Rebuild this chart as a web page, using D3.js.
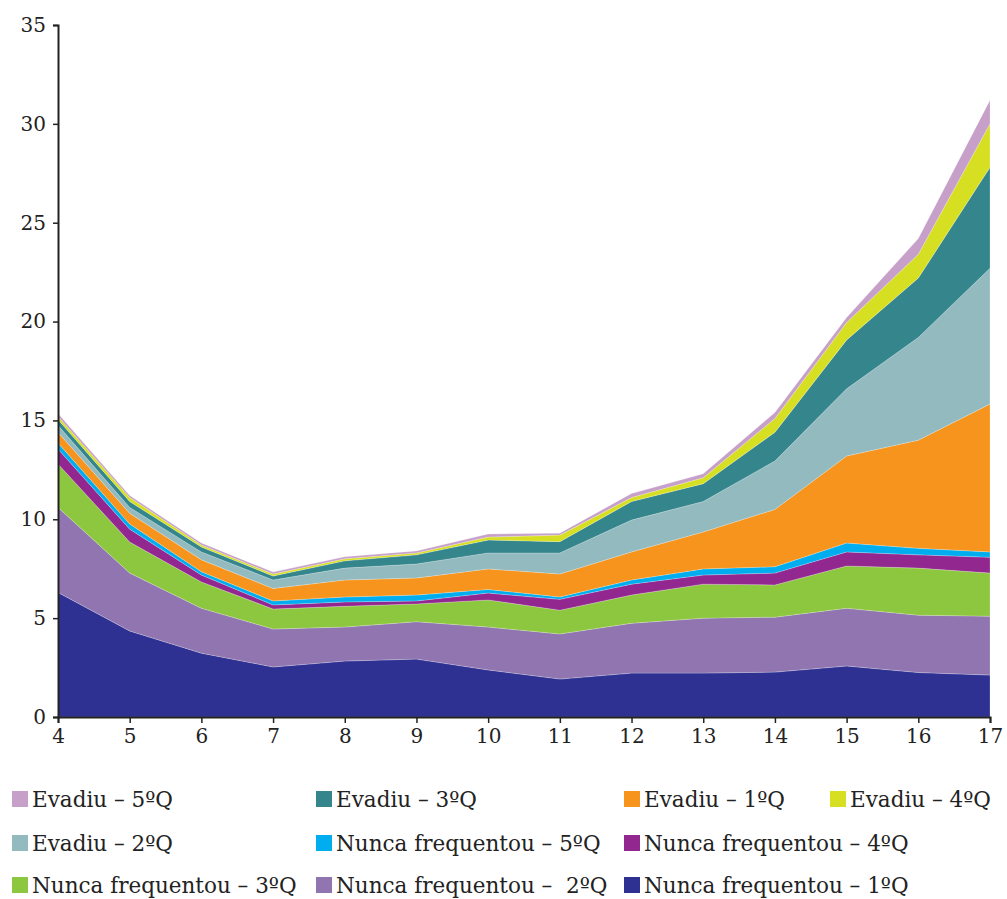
<!DOCTYPE html>
<html><head><meta charset="utf-8">
<script src="https://cdn.jsdelivr.net/npm/d3@7"></script>
<style>body{margin:0;background:#fff}</style>
</head><body><svg id="c" width="1007" height="899"></svg>
<script>
const ages = [4,5,6,7,8,9,10,11,12,13,14,15,16,17];
const nunca1 = [6.3,4.35,3.23,2.53,2.83,2.93,2.38,1.92,2.22,2.22,2.27,2.58,2.25,2.12];
const nunca2 = [4.3,2.93,2.27,1.92,1.72,1.89,2.17,2.28,2.52,2.78,2.78,2.92,2.9,2.98];
const nunca3 = [2.2,1.57,1.33,1.01,1.05,0.9,1.37,1.2,1.43,1.72,1.63,2.14,2.38,2.18];
const nunca4 = [0.75,0.65,0.35,0.21,0.22,0.15,0.35,0.55,0.55,0.46,0.6,0.71,0.67,0.8];
const nunca5 = [0.31,0.26,0.17,0.2,0.25,0.3,0.18,0.12,0.21,0.31,0.32,0.45,0.33,0.27];
const evadiu1 = [0.54,0.54,0.6,0.63,0.86,0.86,1.04,1.16,1.42,1.87,2.9,4.4,5.47,7.48];
const evadiu2 = [0.35,0.3,0.4,0.43,0.6,0.71,0.81,1.07,1.61,1.54,2.45,3.4,5.2,6.87];
const evadiu3 = [0.3,0.3,0.25,0.2,0.37,0.46,0.65,0.57,0.94,0.9,1.45,2.47,3.0,5.1];
const evadiu4 = [0.15,0.2,0.1,0.1,0.1,0.1,0.15,0.33,0.2,0.3,0.7,0.88,1.2,2.2];
const evadiu5 = [0.15,0.1,0.1,0.1,0.1,0.1,0.15,0.1,0.2,0.2,0.3,0.25,0.8,1.2];
const yTicks = [0,5,10,15,20,25,30,35];

const series = [
  {key:"n1", name:"Nunca frequentou – 1ºQ", values:nunca1, color:"#2e3192"},
  {key:"n2", name:"Nunca frequentou –  2ºQ", values:nunca2, color:"#9075b0"},
  {key:"n3", name:"Nunca frequentou – 3ºQ", values:nunca3, color:"#8dc63f"},
  {key:"n4", name:"Nunca frequentou – 4ºQ", values:nunca4, color:"#92278f"},
  {key:"n5", name:"Nunca frequentou – 5ºQ", values:nunca5, color:"#00aeef"},
  {key:"e1", name:"Evadiu – 1ºQ", values:evadiu1, color:"#f7941d"},
  {key:"e2", name:"Evadiu – 2ºQ", values:evadiu2, color:"#93babf"},
  {key:"e3", name:"Evadiu – 3ºQ", values:evadiu3, color:"#35858c"},
  {key:"e4", name:"Evadiu – 4ºQ", values:evadiu4, color:"#d7df23"},
  {key:"e5", name:"Evadiu – 5ºQ", values:evadiu5, color:"#c6a0c9"}
];
// legend rows as in reference
const legendRows = [["e5","e3","e1","e4"],["e2","n5","n4"],["n3","n2","n1"]];

const table = ages.map((a,i)=>{const r={age:a}; series.forEach(s=>r[s.key]=s.values[i]); return r;});

const svg = d3.select("#c");
const x = d3.scaleLinear().domain([4,17]).range([58,990]);
const y = d3.scaleLinear().domain([0,35]).range([717,25]);

const stack = d3.stack().keys(series.map(s=>s.key));
const layers = stack(table);
const area = d3.area().x(d=>x(d.data.age)).y0(d=>y(d[0])).y1(d=>y(d[1]));
const colorOf = Object.fromEntries(series.map(s=>[s.key,s.color]));

svg.append("g").selectAll("path").data(layers).join("path")
  .attr("d",area).attr("fill",d=>colorOf[d.key])
  .attr("stroke","#ffffff").attr("stroke-opacity",0.35).attr("stroke-width",0.6);

const font = "DejaVu Serif";
const yAxis = svg.append("g").attr("transform","translate(58,0)")
  .call(d3.axisLeft(y).tickValues(yTicks).tickSize(5).tickPadding(7));
const xAxis = svg.append("g").attr("transform","translate(0,717)")
  .call(d3.axisBottom(x).tickValues(ages).tickSize(6).tickPadding(6).tickFormat(d3.format("d")));
[yAxis,xAxis].forEach(g=>{
  g.select(".domain").attr("stroke","#222").attr("stroke-width",2);
  g.selectAll(".tick line").attr("stroke","#222").attr("stroke-width",1.5);
  g.selectAll("text").attr("font-family",font).attr("font-size",20).attr("fill","#222");
});

const cols = [12,316,624,830];
const rows = [800,844,886];
const lg = svg.append("g");
legendRows.forEach((row,ri)=>row.forEach((k,ci)=>{
  const s = series.find(t=>t.key===k);
  const cx = cols[ci], cy = rows[ri];
  lg.append("rect").attr("x",cx).attr("y",cy-9).attr("width",16).attr("height",16).attr("fill",s.color);
  lg.append("text").attr("x",cx+20).attr("y",cy+7).text(s.name)
    .attr("font-family",font).attr("font-size",21.5).attr("fill","#222").style("white-space","pre");
}));
</script></body></html>
